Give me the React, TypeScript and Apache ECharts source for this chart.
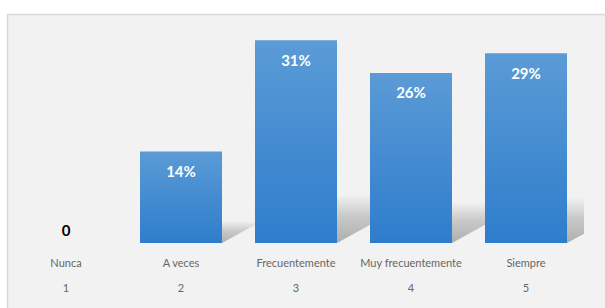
import React, { useEffect, useRef } from "react";
import * as echarts from "echarts";

const categories = ["Nunca", "A veces", "Frecuentemente", "Muy frecuentemente", "Siempre"];
const codes = ["1", "2", "3", "4", "5"];
const values = [0, 14, 31, 26, 29];
const valueLabels = ["0", "14%", "31%", "26%", "29%"];

export default function App() {
  const ref = useRef<HTMLDivElement>(null);
  useEffect(() => {
    if (!ref.current) return;
    const chart = echarts.init(ref.current, null, { renderer: "svg" });
    const barColor = new echarts.graphic.LinearGradient(0, 0, 0, 1, [
      { offset: 0, color: "#5b9bd6" },
      { offset: 1, color: "#2e7dcc" },
    ]);
    chart.setOption({
      animation: false,
      backgroundColor: "#ffffff",
      graphic: [
        {
          type: "rect",
          z: -10,
          silent: true,
          shape: { x: 7.5, y: 14.5, width: 610, height: 310 },
          style: { fill: "#f2f2f2", stroke: "#d9d9d9", lineWidth: 1.5 },
        },
      ],
      grid: { left: 8.5, right: 21.5, top: 14, bottom: 65 },
      xAxis: {
        type: "category",
        data: categories,
        axisLine: { show: false },
        axisTick: { show: false },
        axisLabel: {
          margin: 7,
          interval: 0,
          color: "#666666",
          fontFamily: "Lato",
          fontSize: 11,
          lineHeight: 25,
          formatter: (v: string, i: number) => v + "\n" + codes[i],
        },
      },
      yAxis: {
        type: "value",
        min: 0,
        max: 35,
        show: false,
        splitLine: { show: false },
      },
      series: [
        {
          type: "custom",
          clip: true,
          z: 1,
          silent: true,
          data: values.map((v, i) => [i, v]),
          encode: { x: 0, y: 1 },
          renderItem: (params: any, api: any) => {
            const idx = api.value(0);
            const v = api.value(1);
            const top = api.coord([idx, v]);
            const base = api.coord([idx, 0]);
            const h = base[1] - top[1];
            if (h <= 0) return null;
            const half = 41;
            const x0 = base[0] - half;
            const x1 = base[0] + half;
            const dy = h * 0.24;
            const dx = dy / 0.55;
            const by = base[1];
            return {
              type: "polygon",
              shape: {
                points: [
                  [x0, by],
                  [x1, by],
                  [x1 + dx, by - dy],
                  [x0 + dx, by - dy],
                ],
              },
              style: {
                fill: new echarts.graphic.LinearGradient(0, 0, 0, 1, [
                  { offset: 0, color: "rgba(160,160,160,0)" },
                  { offset: 0.45, color: "rgba(160,160,160,0.5)" },
                  { offset: 1, color: "rgba(150,150,150,0.75)" },
                ]),
              },
            };
          },
        },
        {
          type: "bar",
          z: 2,
          barWidth: 82,
          data: values,
          itemStyle: { color: barColor },
          label: {
            show: true,
            position: "insideTop",
            distance: 12,
            color: "#ffffff",
            fontFamily: "Lato",
            fontWeight: "bold",
            fontSize: 15,
            formatter: (p: any) => (values[p.dataIndex] === 0 ? "" : valueLabels[p.dataIndex]),
          },
        },
        {
          type: "bar",
          z: 3,
          barGap: "-100%",
          barWidth: 82,
          data: values.map((v) => (v === 0 ? 0 : "-")),
          itemStyle: { color: "transparent" },
          label: {
            show: true,
            position: "top",
            distance: 6,
            color: "#000000",
            fontFamily: "Lato",
            fontWeight: "bold",
            fontSize: 15,
            formatter: (p: any) => valueLabels[p.dataIndex],
          },
        },
      ],
    });
    return () => chart.dispose();
  }, []);
  return (
    <div
      ref={ref}
      style={{ position: "absolute", left: 0, top: 0, width: 605, height: 308 }}
    />
  );
}
